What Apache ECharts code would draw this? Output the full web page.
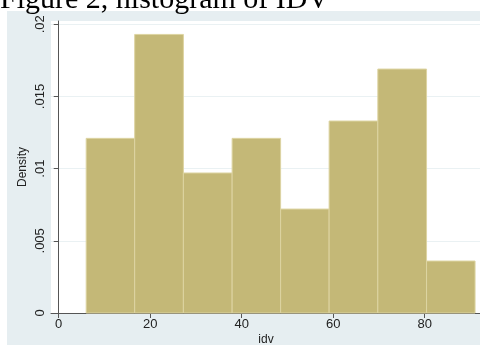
<!DOCTYPE html>
<html>
<head>
<meta charset="utf-8">
<script src="https://cdn.jsdelivr.net/npm/echarts@6/dist/echarts.min.js"></script>
<style>
  html, body { margin: 0; padding: 0; background: #ffffff; }
  #chart { width: 480px; height: 345px; }
</style>
</head>
<body>
<div id="chart"></div>
<script>
// Histogram of idv: bin edges and density of each bin
const binEdges = [6, 16.6, 27.25, 37.9, 48.5, 59.1, 69.75, 80.4, 91];
const densities = [0.0121, 0.0193, 0.0097, 0.0121, 0.0072, 0.0133, 0.0169, 0.0036];
const xTicks = [0, 20, 40, 60, 80];
const yTicks = [0, 0.005, 0.01, 0.015, 0.02];

const bins = densities.map((d, i) => [binEdges[i], binEdges[i + 1], d]);

const labelFont = 'Liberation Sans';
const chart = echarts.init(document.getElementById('chart'), null, { renderer: 'canvas' });

chart.setOption({
  animation: false,
  backgroundColor: '#ffffff',
  graphic: [
    {
      type: 'rect', z: -5, silent: true,
      shape: { x: 7, y: 11, width: 480, height: 340 },
      style: { fill: '#e6eef1' }
    },
    {
      type: 'text', z: 100, silent: true,
      x: 0, y: 0,
      style: {
        text: 'Figure 2, histogram of IDV',
        font: '30px "Liberation Serif"',
        fill: '#000000',
        textVerticalAlign: 'middle'
      }
    }
  ],
  grid: {
    left: 51, top: 21, right: -1, bottom: 32,
    outerBoundsMode: 'none',
    containLabel: false,
    show: true, backgroundColor: '#ffffff', borderWidth: 0
  },
  xAxis: {
    type: 'value',
    min: -1.69, max: 92.3,
    name: 'idv', nameLocation: 'middle', nameGap: 21, nameMoveOverlap: false,
    nameTextStyle: { fontFamily: labelFont, fontSize: 12, color: '#222', verticalAlign: 'top' },
    axisLine: { show: true, onZero: false, lineStyle: { color: '#555', width: 1 } },
    axisTick: { show: true, length: 5, customValues: xTicks, lineStyle: { color: '#555' } },
    axisLabel: { customValues: xTicks, margin: 5, fontFamily: labelFont, fontSize: 13, color: '#222' },
    splitLine: { show: false }
  },
  yAxis: {
    type: 'value',
    min: 0, max: 0.02023,
    name: 'Density', nameLocation: 'middle', nameGap: 22, nameRotate: 90, nameMoveOverlap: false,
    nameTextStyle: { fontFamily: labelFont, fontSize: 12, color: '#222' },
    axisLine: { show: true, lineStyle: { color: '#555', width: 1 } },
    axisTick: { show: true, length: 5, customValues: yTicks, lineStyle: { color: '#555' } },
    axisLabel: {
      customValues: yTicks, rotate: 90, margin: 4,
      fontFamily: labelFont, fontSize: 13, color: '#222',
      formatter: v => v === 0 ? '0' : String(v).replace(/^0/, '')
    },
    splitLine: { show: true, lineStyle: { color: '#eaf1f3', width: 1 } }
  },
  series: [{
    type: 'custom',
    data: bins,
    renderItem: (params, api) => {
      const p0 = api.coord([api.value(0), api.value(2)]);
      const p1 = api.coord([api.value(1), 0]);
      return {
        type: 'rect',
        shape: { x: p0[0], y: p0[1], width: p1[0] - p0[0], height: p1[1] - p0[1] },
        style: { fill: '#c4b877', stroke: '#ddd4a2', lineWidth: 1 }
      };
    },
    encode: { x: [0, 1], y: 2 }
  }]
});
</script>
</body>
</html>
